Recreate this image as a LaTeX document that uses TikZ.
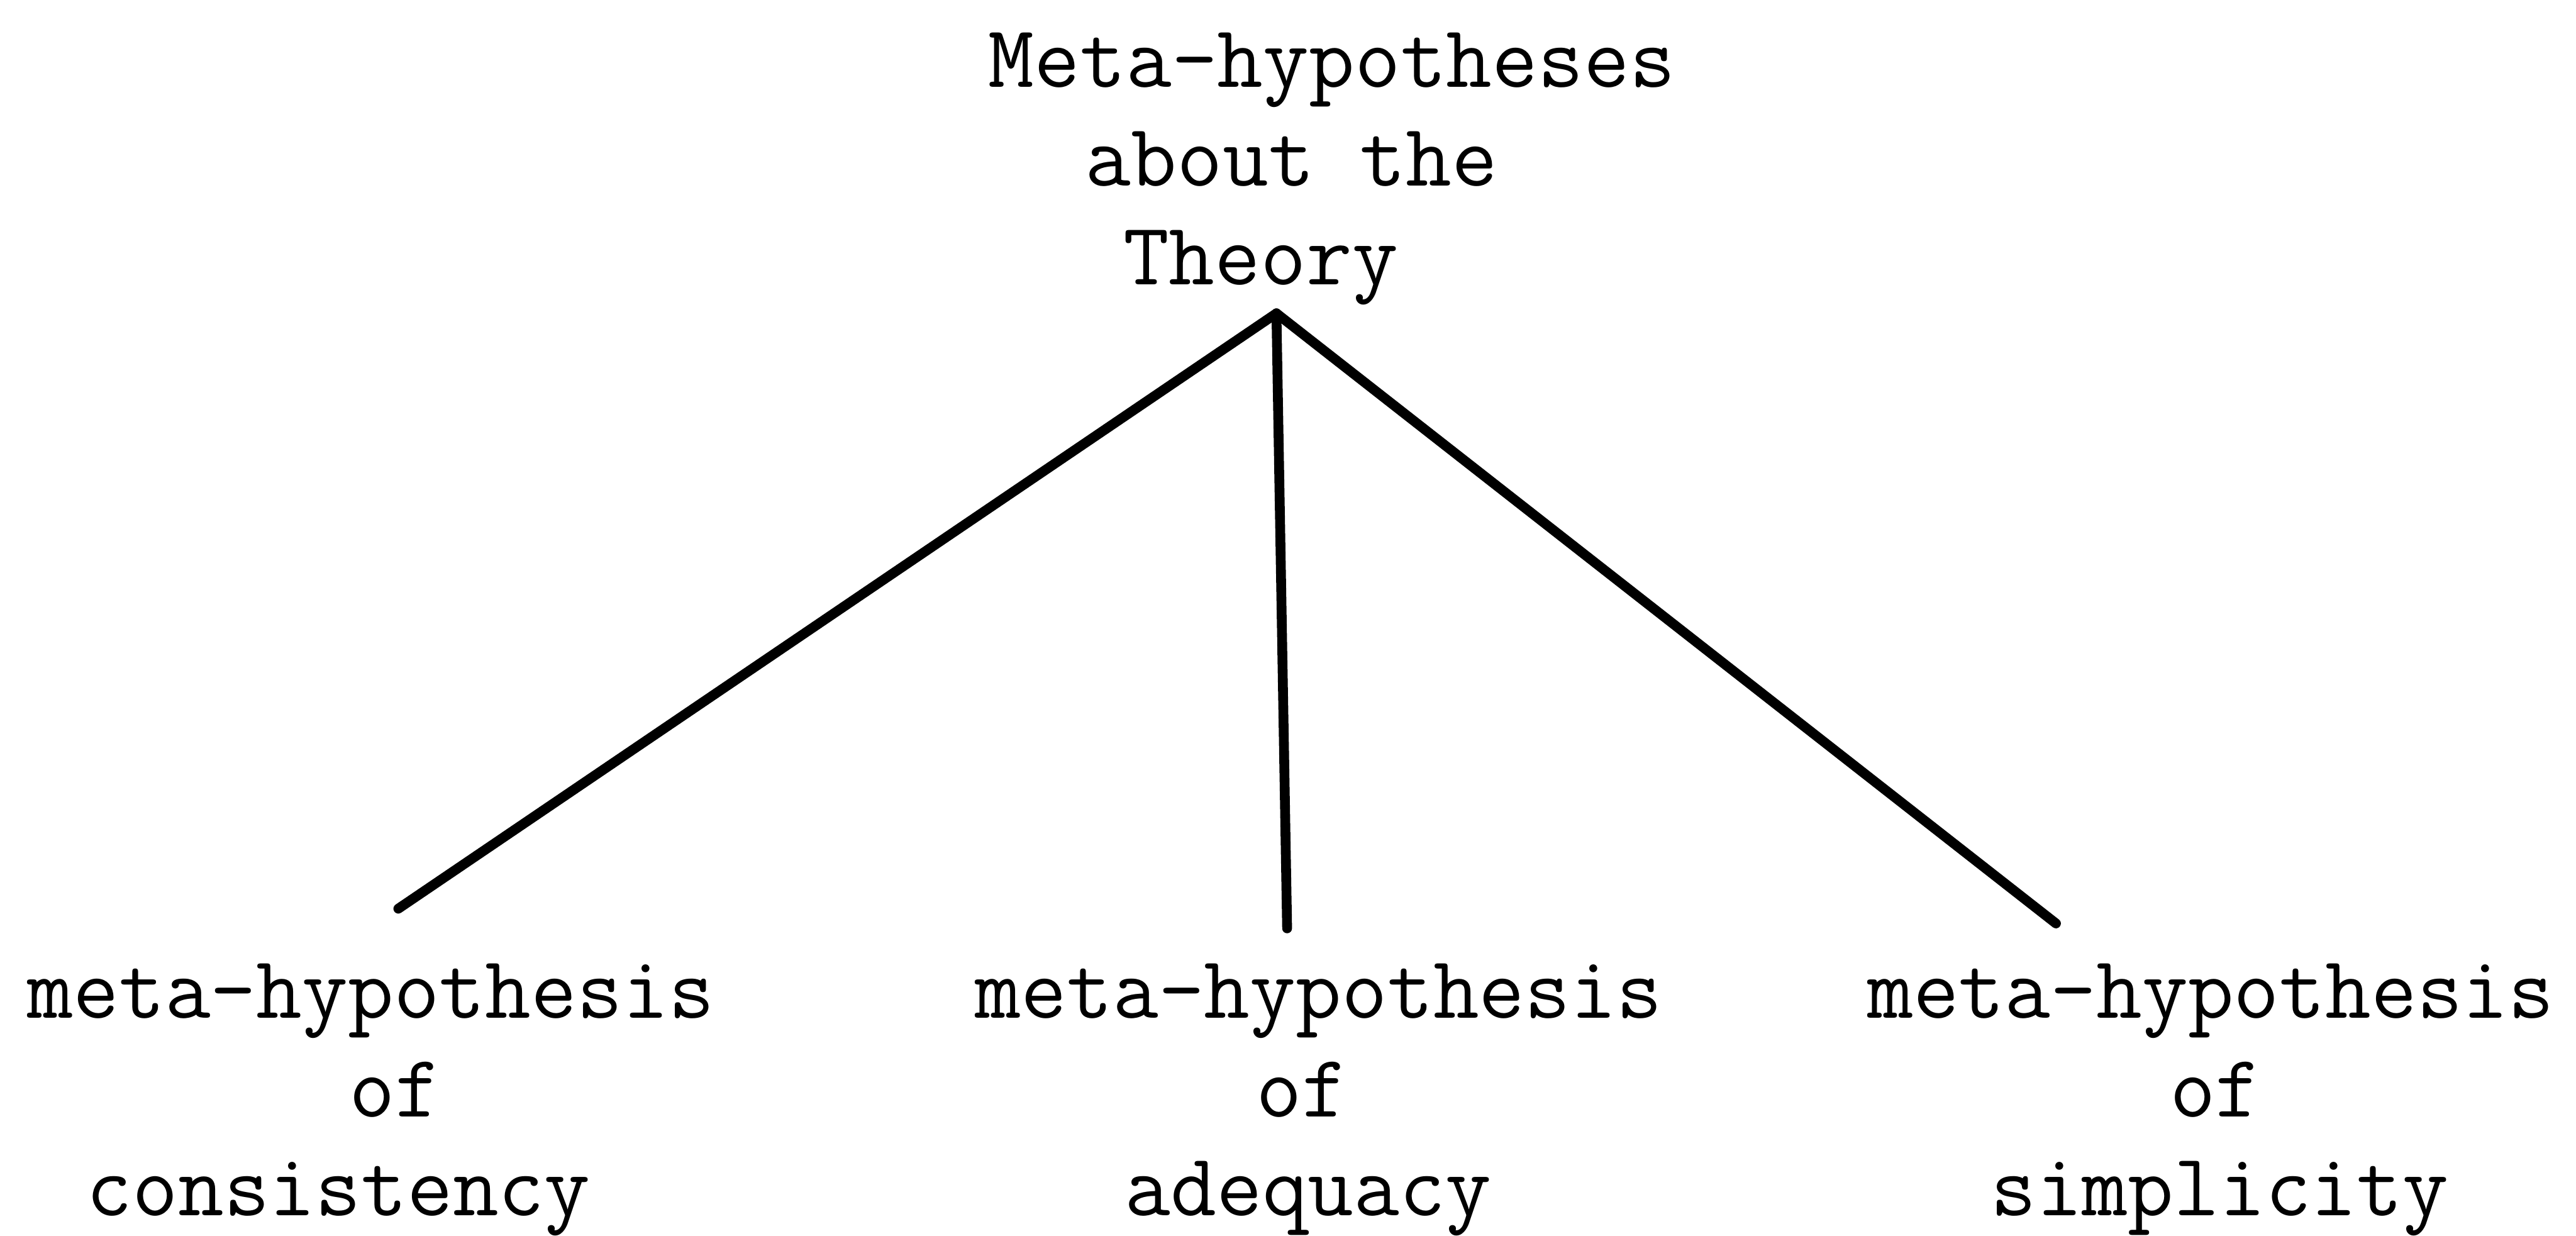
\documentclass[tikz,border=0pt]{standalone}
\usepackage{tikz}
\usetikzlibrary{positioning}

\begin{document}
\begin{tikzpicture}[
    x=0.1mm, y=-0.1mm,
    hyp/.style={align=left, inner sep=0pt, anchor=north west, font=\ttfamily\fontsize{15.4}{17.07}\selectfont},
    branch/.style={line width=1.7pt, line cap=round}
  ]
  \useasboundingbox (0,0) rectangle (1568,752);

  \node (theory) [hyp] at (601,19.4) {Meta-hypotheses\\\hspace*{0.59cm}about the\\\hspace*{0.82cm}Theory};
  \node (cons) [hyp] at (16,585.9) {meta-hypothesis\\\hspace*{1.96cm}of\\\hspace*{0.36cm}consistency};
  \node (adeq) [hyp] at (593,585.9) {meta-hypothesis\\\hspace*{1.71cm}of\\\hspace*{0.91cm}adequacy};
  \node (simp) [hyp] at (1136,585.9) {meta-hypothesis\\\hspace*{1.84cm}of\\\hspace*{0.75cm}simplicity};

  \coordinate (apex) at ([shift={(-33.8,4.5)}]theory.south);
  \coordinate (consTop) at ([shift={(16.7,-32.9)}]cons.north);
  \coordinate (adeqTop) at ([shift={(-19.3,-20.9)}]adeq.north);
  \coordinate (simpTop) at ([shift={(-94.3,-23.9)}]simp.north);

  \draw [branch] (apex) -- (consTop);
  \draw [branch] (apex) -- (adeqTop);
  \draw [branch] (apex) -- (simpTop);
\end{tikzpicture}
\end{document}
